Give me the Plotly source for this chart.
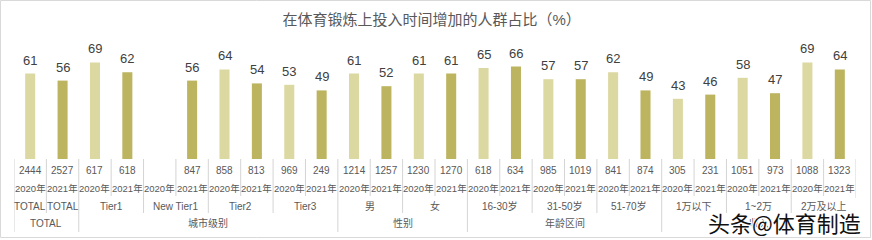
import plotly.graph_objects as go

# ---------------- data ----------------
groups = ["TOTAL", "Tier1", "New Tier1", "Tier2", "Tier3", "男", "女",
          "16-30岁", "31-50岁", "51-70岁", "1万以下", "1~2万", "2万及以上"]
dims = ["TOTAL", "城市级别", "城市级别", "城市级别", "城市级别", "性别", "性别",
        "年龄区间", "年龄区间", "年龄区间", "收入", "收入", "收入"]
years = ["2020年", "2021年"]
values_2020 = [61, 69, None, 64, 53, 61, 61, 65, 57, 62, 43, 58, 69]
values_2021 = [56, 62, 56, 54, 49, 52, 61, 66, 57, 49, 46, 47, 64]
n_2020 = [2444, 617, None, 858, 969, 1214, 1230, 618, 985, 841, 305, 1051, 1088]
n_2021 = [2527, 618, 847, 813, 249, 1257, 1270, 634, 1019, 874, 231, 973, 1323]
title_text = "在体育锻炼上投入时间增加的人群占比（%）"
watermark = "头条@体育制造"

# ---------------- style ----------------
C2020 = "#DCD8A1"
C2021 = "#BDB45F"
LBL = "#404040"
TXT = "#595959"
LINE = "#D4D4D4"
FONT = "Liberation Sans, Noto Sans CJK SC, sans-serif"
W, H = 872, 240
ML, MR, MT, MB = 14, 16, 47, 81

x2020 = [2 * i for i in range(len(groups))]
x2021 = [2 * i + 1 for i in range(len(groups))]

fig = go.Figure()
ann = []
shapes = []
for xs, vals, col, name in [(x2020, values_2020, C2020, years[0]),
                             (x2021, values_2021, C2021, years[1])]:
    fig.add_trace(go.Bar(
        x=xs, y=vals, name=name, marker=dict(color=col, line=dict(width=0)),
        width=0.31, hoverinfo="skip"))
    for xv, v in zip(xs, vals):
        if v is not None:
            ann.append(dict(x=xv, xref="x", y=v, yref="y", yanchor="bottom",
                            yshift=4, text=str(v), showarrow=False,
                            font=dict(size=13, color=LBL, family=FONT)))

ROW_N, ROW_Y, ROW_G, ROW_D = 11, 29, 47, 64  # pixel offsets below axis


def txt(x, row, s, size=9.5, color=TXT):
    ann.append(dict(x=x, xref="x", y=0, yref="paper", yanchor="middle",
                    yshift=-row, text=s, showarrow=False,
                    font=dict(size=size, color=color, family=FONT)))


def vline(b, depth):
    shapes.append(dict(type="line", xref="x", x0=b, x1=b, yref="paper",
                       ysizemode="pixel", yanchor=0, y0=0, y1=-depth,
                       line=dict(color=LINE, width=1)))


n = len(groups)
for i in range(n):
    for k, (xs, ns) in enumerate([(x2020, n_2020), (x2021, n_2021)]):
        if ns[i] is not None:
            txt(xs[i], ROW_N, str(ns[i]), size=10)
        txt(xs[i], ROW_Y, years[k])
    if groups[i] == dims[i]:
        txt(x2020[i], ROW_G, groups[i], size=10)
        txt(x2021[i], ROW_G, groups[i], size=10)
        vline(x2020[i] + 0.5, 54)
    else:
        txt(x2020[i] + 0.5, ROW_G, groups[i], size=10)
        vline(x2020[i] + 0.5, 37)

# level-3 and level-4 boundaries
vline(-0.5, 73)
for i in range(1, n):
    b = x2020[i] - 0.5
    vline(b, 73 if dims[i] != dims[i - 1] else 54)
vline(x2021[-1] + 0.5, 39)

# level-4 labels
start = 0
for i in range(1, n + 1):
    if i == n or dims[i] != dims[start]:
        c = (x2020[start] + x2021[i - 1]) / 2
        txt(c, ROW_D, dims[start], size=10)
        start = i

# outer border
ph = H - MT - MB
shapes.append(dict(type="rect", xref="paper", yref="paper",
                   xsizemode="pixel", ysizemode="pixel", xanchor=0, yanchor=0,
                   x0=-ML + 0.5, x1=W - ML - 1.5, y0=-(MB - 2.5), y1=ph + MT - 0.5,
                   line=dict(color="#D9D9D9", width=1)))

# watermark
ann.append(dict(x=1, xref="paper", xanchor="right", xshift=7,
                y=0, yref="paper", yanchor="middle", yshift=-63,
                text=watermark, showarrow=False,
                font=dict(size=22, color="#111111", family="Noto Sans CJK SC",
                          shadow="1px 1px 0 #fff, -1px -1px 0 #fff, 1px -1px 0 #fff, -1px 1px 0 #fff")))

fig.update_layout(
    width=W, height=H, margin=dict(l=ML, r=MR, t=MT, b=MB),
    paper_bgcolor="white", plot_bgcolor="white",
    barmode="overlay", showlegend=False,
    title=dict(text=title_text, x=0.495, xref="container", xanchor="center",
               y=1 - 20 / H, yref="container", yanchor="middle",
               font=dict(size=15, color=TXT, family=FONT)),
    xaxis=dict(range=[-0.5, 2 * n - 0.5], showticklabels=False, showgrid=False,
               zeroline=False, showline=False, ticks="", fixedrange=True),
    yaxis=dict(range=[0, 80], visible=False, showgrid=False, zeroline=False,
               fixedrange=True),
    annotations=ann, shapes=shapes,
)

fig.write_html("out.html")
